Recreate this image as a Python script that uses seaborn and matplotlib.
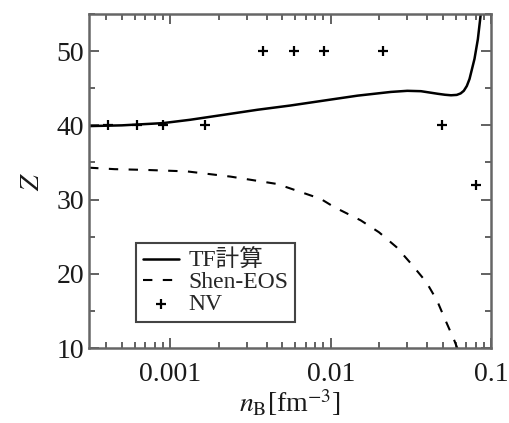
import numpy as np
import pandas as pd
import matplotlib
matplotlib.use("Agg")
import matplotlib.pyplot as plt
from matplotlib.ticker import LogLocator, MultipleLocator, FixedLocator, FixedFormatter
import seaborn as sns

# TF calculation (solid)
tf_nb = [3.12e-4, 5e-4, 9e-4, 1.33e-3, 2.2e-3, 3.5e-3, 5.6e-3, 9.5e-3,
         0.0147, 0.0237, 0.030, 0.0365, 0.0465, 0.0515, 0.0562, 0.061,
         0.0645, 0.0675, 0.0705, 0.0733, 0.0787, 0.0826, 0.0859, 0.087]
tf_z = [39.9, 40.0, 40.3, 40.75, 41.45, 42.1, 42.67, 43.4,
        44.0, 44.5, 44.65, 44.6, 44.25, 44.12, 44.05, 44.1,
        44.3, 44.65, 45.3, 46.25, 48.95, 51.6, 54.8, 56.0]

# Shen-EOS (dashed)
shen_nb = [3.12e-4, 4.5e-4, 7e-4, 1.27e-3, 2.37e-3, 4.65e-3, 8.66e-3, 0.0105,
           0.0154, 0.020, 0.0257, 0.0316, 0.0394, 0.046, 0.052, 0.059, 0.062]
shen_z = [34.3, 34.1, 34.0, 33.8, 33.1, 32.1, 30.1, 29.0,
          27.2, 25.6, 23.6, 21.4, 18.9, 16.4, 13.7, 11.0, 9.8]

# NV points
nv_nb = [4.1e-4, 6.2e-4, 9.0e-4, 1.65e-3, 3.8e-3, 5.9e-3, 9.1e-3, 0.0212, 0.0492, 0.0805]
nv_z = [40, 40, 40, 40, 50, 50, 50, 50, 40, 32]

sns.set_style("ticks")
plt.rcParams['font.family'] = ['Liberation Serif', 'Noto Sans CJK JP']
plt.rcParams['mathtext.fontset'] = 'stix'

fig = plt.figure(figsize=(5.09, 4.23), dpi=100)
ax = fig.add_axes([0.175, 0.177, 0.79, 0.79])

tf = pd.DataFrame({"nb": tf_nb, "z": tf_z})
shen = pd.DataFrame({"nb": shen_nb, "z": shen_z})
nv = pd.DataFrame({"nb": nv_nb, "z": nv_z})

sns.lineplot(data=tf, x="nb", y="z", ax=ax, color="black", lw=1.8,
             estimator=None, sort=False, label="TF計算")
sns.lineplot(data=shen, x="nb", y="z", ax=ax, color="black", lw=1.5,
             estimator=None, sort=False, label="Shen-EOS")
ax.lines[-1].set_dashes([4.5, 5])
sns.scatterplot(data=nv, x="nb", y="z", ax=ax, marker="+", s=60, color="black",
                linewidth=1.6, label="NV")

ax.set_xscale("log")
ax.set_xlim(3.12e-4, 0.1)
ax.set_ylim(10, 55)
ax.xaxis.set_major_locator(FixedLocator([1e-3, 1e-2, 1e-1]))
ax.xaxis.set_major_formatter(FixedFormatter(["0.001", "0.01", "0.1"]))
ax.xaxis.set_minor_locator(LogLocator(base=10, subs=np.arange(2, 10)))
ax.yaxis.set_major_locator(MultipleLocator(10))
ax.yaxis.set_minor_locator(MultipleLocator(5))

ax.tick_params(which="both", direction="in", top=True, right=True,
               color="#555555", width=1.3, labelsize=20, labelcolor="#1a1a1a")
ax.tick_params(which="major", length=7)
ax.tick_params(which="minor", length=4)
ax.tick_params(axis="x", pad=10)
for sp in ax.spines.values():
    sp.set_color("#666666")
    sp.set_linewidth(1.8)

ax.set_xlabel(r"$n_{\rm B}$[fm$^{-3}$]", fontsize=20, labelpad=0, color="#1a1a1a")
ax.set_ylabel(r"$Z$", fontsize=20, labelpad=8, color="#1a1a1a")

leg = ax.legend(loc="lower left", bbox_to_anchor=(0.117, 0.078), fontsize=17,
                frameon=True, fancybox=False, edgecolor="#444444", framealpha=1,
                handlelength=1.5, handletextpad=0.4, labelspacing=0.0,
                borderpad=0.3, borderaxespad=0)
leg.get_frame().set_linewidth(1.5)

fig.savefig("out.png", dpi=100)
